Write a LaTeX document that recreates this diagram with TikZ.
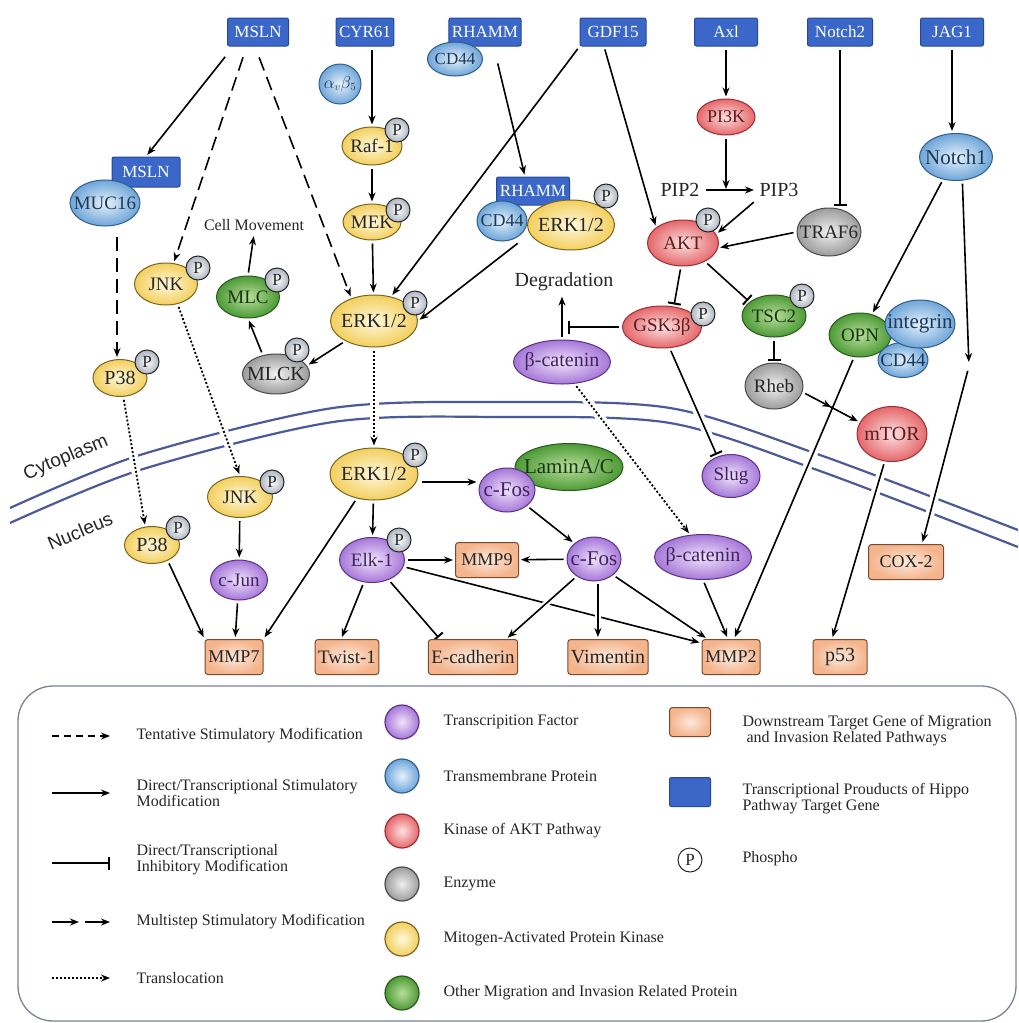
\documentclass[tikz,border=0pt]{standalone}
\usepackage{fontspec}
\setmainfont{Liberation Serif}
\setsansfont{Liberation Sans}
\usetikzlibrary{shapes, arrows.meta, decorations.markings}
\pgfdeclarelayer{back}
\pgfdeclarelayer{edges}
\pgfsetlayers{back,edges,main}
\newcommand\fsz[1]{\fontsize{#1}{#1}\selectfont}
\definecolor{tfin}{HTML}{F1E4FB}\definecolor{tfout}{HTML}{A677D8}\definecolor{tfedge}{HTML}{5B3288}
\definecolor{tmin}{HTML}{E6F2FC}\definecolor{tmout}{HTML}{6EA5D8}\definecolor{tmedge}{HTML}{2F5F8E}
\definecolor{kinin}{HTML}{FCE2E2}\definecolor{kinout}{HTML}{E5676A}\definecolor{kinedge}{HTML}{9A2F35}
\definecolor{enzin}{HTML}{F0F0F0}\definecolor{enzout}{HTML}{9C9C9C}\definecolor{enzedge}{HTML}{4A4A4A}
\definecolor{mapin}{HTML}{FFF9DC}\definecolor{mapout}{HTML}{F3CF5E}\definecolor{mapedge}{HTML}{7A6420}
\definecolor{othin}{HTML}{B8DE9C}\definecolor{othout}{HTML}{4D9A36}\definecolor{othedge}{HTML}{2A5A1E}
\definecolor{tgin}{HTML}{FDE9DC}\definecolor{tgout}{HTML}{F4B48C}\definecolor{tgedge}{HTML}{7A4A2E}
\definecolor{hippo}{HTML}{3A67C8}\definecolor{hippoedge}{HTML}{27479A}
\definecolor{phout}{HTML}{AEB5C0}\definecolor{membcol}{HTML}{4B5A99}
\definecolor{frame}{HTML}{7C8295}\definecolor{ink}{HTML}{262626}

\begin{document}
\begin{tikzpicture}[x=1pt, y=-1pt,
    prot/.style={ellipse, draw, line width=1pt, inner xsep=-12pt, inner ysep=-6pt, font=\fsz{19}},
    tf/.style={prot, draw=tfedge, inner color=tfin, outer color=tfout, text=tfedge!70!black},
    memb/.style={prot, draw=tmedge, inner color=tmin, outer color=tmout, text=tmedge!60!black},
    kinase/.style={prot, draw=kinedge, inner color=kinin, outer color=kinout, text=kinedge!60!black},
    enzyme/.style={prot, draw=enzedge, inner color=enzin, outer color=enzout, text=ink},
    mapk/.style={prot, draw=mapedge, inner color=mapin, outer color=mapout, text=ink},
    other/.style={prot, draw=othedge, inner color=othin, outer color=othout, text=othedge!60!black},
    hippobox/.style={rectangle, rounded corners=2pt, draw=hippoedge, line width=1pt, fill=hippo, text=white, minimum height=28pt, inner xsep=3pt, font=\fsz{17}},
    target/.style={rectangle, rounded corners=3pt, draw=tgedge, line width=1pt, inner color=tgin, outer color=tgout, minimum height=35pt, inner xsep=3pt, font=\fsz{19}, text=ink},
    phos/.style={circle, draw=ink, line width=1pt, inner color=white, outer color=phout, minimum size=24pt, inner sep=0pt, font=\fsz{17}, text=ink},
    lbl/.style={font=\fsz{20}, text=ink},
    act/.style={-{Stealth[length=9pt,width=7pt]}, line width=1.6pt, shorten >=2pt, shorten <=3pt},
    inh/.style={-{Bar[width=13pt,line width=2pt]}, line width=1.6pt, shorten >=2pt, shorten <=3pt},
    tent/.style={act, dash pattern=on 14pt off 7pt},
    trans/.style={act, dash pattern=on 2pt off 2pt, line width=1.8pt},
    multi/.style={act, postaction={decorate}, decoration={markings, mark=at position 0.5 with {\arrow{Stealth[length=9pt,width=7pt]}}}},
    cross/.style={preaction={draw=white, line width=9pt, solid, -}},
    membrane/.style={draw=membcol, line width=2.2pt},
    legtxt/.style={anchor=west, align=left, font=\fsz{16}, text=ink},
    legdot/.style={circle, line width=1.2pt, minimum size=34pt, inner sep=0pt}
  ]
  \useasboundingbox (0,0) rectangle (1018,1023);

  % membrane and legend frame
  \begin{pgfonlayer}{back}
    \fill[white] (0,0) rectangle (1018,1023);
    \draw[membrane] plot[smooth] coordinates {(10,508) (140,455) (333,408) (500,402) (670,408) (820,455) (1018,530)};
    \draw[membrane] plot[smooth] coordinates {(10,523) (140,470) (333,422) (500,417) (670,423) (820,471) (1018,547)};
    \draw[draw=frame, line width=1.3pt, rounded corners=35pt] (18,686) rectangle (1016,1021);
  \end{pgfonlayer}
  \node[font=\sffamily\fsz{19}, text=ink, rotate=23] (cyto) at (66,458) {Cytoplasm};
  \node[font=\sffamily\fsz{19}, text=ink, rotate=23] (nucl) at (80,531) {Nucleus};

  % Hippo target gene products
  \node[hippobox, minimum width=61pt] (mslnA) at (258,32) {MSLN};
  \node[hippobox, minimum width=56pt] (cyr61) at (365,32) {CYR61};
  \node[hippobox, minimum width=65pt] (rhammA) at (485,32) {RHAMM};
  \node[memb, minimum width=55pt, minimum height=34pt, font=\fsz{17}] (cd44A) at (455,59) {CD44};
  \node[hippobox, minimum width=66pt] (gdf15) at (613,32) {GDF15};
  \node[hippobox, minimum width=63pt] (axl) at (726,32) {Axl};
  \node[hippobox, minimum width=65pt] (notch2) at (840,32) {Notch2};
  \node[hippobox, minimum width=63pt] (jag1) at (952,32) {JAG1};

  % cytoplasm
  \node[memb, minimum width=42pt, minimum height=40pt, font=\fsz{16}] (avb5) at (340,84) {$\alpha_v\beta_5$};
  \node[hippobox, minimum width=68pt, minimum height=30pt] (mslnB) at (146,172) {MSLN};
  \node[memb, minimum width=70pt, minimum height=46pt] (muc16) at (105,203) {MUC16};
  \node[mapk, minimum width=60pt, minimum height=38pt] (raf) at (372,146) {Raf-1};
  \node[phos] (pRaf) at (397,130) {P};
  \node[mapk, minimum width=58pt, minimum height=36pt] (mek) at (372,222) {MEK};
  \node[phos] (pMek) at (398,210) {P};
  \node[mapk, minimum width=87pt, minimum height=52pt, font=\fsz{20}] (erkA) at (374,321) {ERK1/2};
  \node[phos] (pErkA) at (415,303) {P};
  \node[lbl, font=\fsz{16}] (cellmove) at (254,225) {Cell Movement};
  \node[other, minimum width=63pt, minimum height=42pt] (mlc) at (248,297) {MLC};
  \node[phos] (pMlc) at (277,280) {P};
  \node[enzyme, minimum width=67pt, minimum height=40pt, font=\fsz{20}] (mlck) at (276,374) {MLCK};
  \node[phos] (pMlck) at (297,350) {P};
  \node[mapk, minimum width=63pt, minimum height=42pt] (jnkA) at (166,284) {JNK};
  \node[phos] (pJnkA) at (198,268) {P};
  \node[mapk, minimum width=54pt, minimum height=37pt, font=\fsz{20}] (p38A) at (120,378) {P38};
  \node[phos] (pP38A) at (147,362) {P};
  \node[kinase, minimum width=58pt, minimum height=36pt, font=\fsz{18}] (pi3k) at (726,117) {PI3K};
  \node[lbl] (pip2) at (680,190) {PIP2};
  \node[lbl] (pip3) at (779,190) {PIP3};
  \node[kinase, minimum width=71pt, minimum height=46pt] (akt) at (683,243) {AKT};
  \node[phos] (pAkt) at (708,220) {P};
  \node[enzyme, minimum width=64pt, minimum height=48pt] (traf6) at (829,232) {TRAF6};
  \node[memb, minimum width=73pt, minimum height=47pt, font=\fsz{21}] (notch1) at (956,157) {Notch1};
  \node[hippobox, minimum width=73pt] (rhammB) at (533,191) {RHAMM};
  \node[mapk, minimum width=87pt, minimum height=50pt, font=\fsz{20}] (erkB) at (571,225) {ERK1/2};
  \node[memb, minimum width=50pt, minimum height=40pt, font=\fsz{18}] (cd44B) at (502,221) {CD44};
  \node[phos] (pErkB) at (606,196) {P};
  \node[lbl] (degr) at (564,282) {Degradation};
  \node[kinase, minimum width=79pt, minimum height=42pt] (gsk) at (662,327) {GSK3β};
  \node[phos] (pGsk) at (703,314) {P};
  \node[other, minimum width=64pt, minimum height=42pt] (tsc2) at (774,316) {TSC2};
  \node[phos] (pTsc2) at (802,296) {P};
  \node[tf, minimum width=97pt, minimum height=44pt, font=\fsz{20}] (betaA) at (562,362) {β-catenin};
  \node[enzyme, minimum width=58pt, minimum height=46pt] (rheb) at (774,386) {Rheb};
  \node[other, minimum width=62pt, minimum height=44pt] (opn) at (860,335) {OPN};
  \node[memb, minimum width=50pt, minimum height=35pt] (cd44C) at (903,360) {CD44};
  \node[memb, minimum width=70pt, minimum height=48pt, font=\fsz{21}] (integrin) at (920,324) {integrin};
  \node[kinase, minimum width=70pt, minimum height=55pt, font=\fsz{20}] (mtor) at (892,434) {mTOR};
  \node[tf, minimum width=58pt, minimum height=43pt] (slug) at (731,476) {Slug};

  % nucleus
  \node[mapk, minimum width=88pt, minimum height=52pt, font=\fsz{20}] (erkC) at (374,474) {ERK1/2};
  \node[phos] (pErkC) at (415,455) {P};
  \node[other, minimum width=108pt, minimum height=47pt, font=\fsz{21}] (lamin) at (569,467) {LaminA/C};
  \node[tf, minimum width=56pt, minimum height=44pt, font=\fsz{21}] (cfosA) at (507,490) {c-Fos};
  \node[tf, minimum width=54pt, minimum height=44pt, font=\fsz{21}] (cfosB) at (594,559) {c-Fos};
  \node[tf, minimum width=65pt, minimum height=45pt] (elk) at (372,560) {Elk-1};
  \node[phos] (pElk) at (399,540) {P};
  \node[target, minimum width=63pt, font=\fsz{18}] (mmp9) at (487,560) {MMP9};
  \node[mapk, minimum width=65pt, minimum height=41pt] (jnkB) at (240,497) {JNK};
  \node[phos] (pJnkB) at (272,482) {P};
  \node[tf, minimum width=57pt, minimum height=40pt] (cjun) at (239,580) {c-Jun};
  \node[mapk, minimum width=55pt, minimum height=37pt, font=\fsz{20}] (p38B) at (152,545) {P38};
  \node[phos] (pP38B) at (178,528) {P};
  \node[tf, minimum width=97pt, minimum height=45pt, font=\fsz{20}] (betaB) at (703,557) {β-catenin};
  \node[target, minimum width=75pt, font=\fsz{18}] (cox2) at (906,562) {COX-2};
  \node[target, minimum width=58pt, font=\fsz{18}] (mmp7) at (234,657) {MMP7};
  \node[target, minimum width=62pt] (twist) at (347,657) {Twist-1};
  \node[target, minimum width=85pt] (ecad) at (473,657) {E-cadherin};
  \node[target, minimum width=78pt, font=\fsz{20}] (vim) at (608,657) {Vimentin};
  \node[target, minimum width=58pt, font=\fsz{18}] (mmp2) at (731,657) {MMP2};
  \node[target, minimum width=54pt, font=\fsz{20}] (p53) at (840,657) {p53};
  \coordinate (nbend) at (969,366);

  \begin{pgfonlayer}{edges}
    \draw[act] ([yshift=-8pt]mslnA.south west) -- (mslnB.north);
    \draw[tent] ([xshift=-14pt,yshift=-8pt]mslnA.south) -- (jnkA.70);
    \draw[tent] ([yshift=-8pt]mslnA.south) -- (erkA.135);
    \draw[tent, shorten <=10pt] ([xshift=12pt]muc16.south) -- ([xshift=-3pt]p38A.north);
    \draw[act] (raf.north |- cyr61.south) -- (raf.north);
    \draw[act] (raf) -- (mek);
    \draw[act] (mek) -- (erkA);
    \draw[act] (gdf15.south west) -- (erkA.55);
    \draw[act] ([xshift=-9pt]gdf15.south) -- (akt.150);
    \draw[act] ([xshift=12pt,yshift=-14pt]rhammA.south) -- ([xshift=-8pt]rhammB.north);
    \draw[act] ([yshift=-6pt]cd44B.south east) -- (erkA.east);
    \draw[act] (erkA.215) -- (mlck.15);
    \draw[act] (mlck.125) -- (mlc.south);
    \draw[act] (mlc.north) -- (cellmove.south);
    \draw[trans, cross] (jnkA.-60) -- (jnkB.north);
    \draw[trans, cross] (p38A.-80) -- (p38B.110);
    \draw[trans, cross] (erkA) -- (erkC);
    \draw[trans, cross] (betaA.-60) -- (betaB.120);
    \draw[inh, cross] (gsk.-70) -- (slug.125);
    \draw[act, cross] (opn.-105) -- ([xshift=3pt]mmp2.north);
    \draw[act, cross] (mtor.-105) -- ([xshift=-8pt]p53.north);
    \draw[act, shorten >=4pt] (notch1.-75) -- (nbend);
    \draw[act, cross, shorten <=5pt] (nbend) -- ([xshift=16pt]cox2.north);
    \draw[act] (notch1.-120) -- (opn.60);
    \draw[act] (jag1.south) -- (jag1.south |- notch1.north);
    \draw[act] (axl) -- (pi3k);
    \draw[act] (pip2) -- (pip3);
    \draw[act, shorten >=1pt] (pi3k) -- (pi3k |- pip2.center);
    \draw[act] (pip3.south west) -- (akt.15);
    \draw[act] (traf6.west) -- (akt.-8);
    \draw[inh] (notch2.south) -- (notch2.south |- traf6.north);
    \draw[inh] (akt.-95) -- (gsk.60);
    \draw[inh] (akt.-40) -- (tsc2.150);
    \draw[inh] (tsc2) -- (rheb);
    \draw[multi] (rheb.-12) -- (mtor.160);
    \draw[act] (betaA.north) -- (betaA.north |- degr.south);
    \draw[inh, shorten >=6pt] (gsk.west) -- (gsk.west -| betaA.north);
    \draw[act] ([yshift=-8pt]erkC.east) -- ([yshift=-8pt]erkC.east -| cfosA.west);
    \draw[act] (cfosA) -- (cfosB);
    \draw[act] (erkC) -- (elk);
    \draw[act] (erkC.235) -- (mmp7.north east);
    \draw[act] (elk) -- (mmp9);
    \draw[act] (cfosB) -- (mmp9);
    \draw[act] (elk.250) -- ([xshift=-6pt]twist.north);
    \draw[inh] (elk.-50) -- ([xshift=12pt]ecad.north west);
    \draw[act] (elk.-12) -- ([yshift=-4pt]mmp2.north west);
    \draw[act, preaction={draw=white, line width=6pt, -}] (cfosB.225) -- ([xshift=-12pt]ecad.north east);
    \draw[act, preaction={draw=white, line width=6pt, -}] (cfosB.-80) -- (cfosB.-80 |- vim.north);
    \draw[act] (cfosB.-40) -- ([xshift=6pt]mmp2.north west);
    \draw[act] (betaB.south) -- ([xshift=-3pt]mmp2.north);
    \draw[act] (jnkB) -- (cjun);
    \draw[act] (cjun) -- (mmp7);
    \draw[act] (p38B.-45) -- (mmp7.north west);
  \end{pgfonlayer}

  % legend
  \node[legtxt] (leg1) at (133,736) {Tentative Stimulatory Modification};
  \node[legtxt] (leg2) at (133,793) {Direct/Transcriptional Stimulatory\\Modification};
  \node[legtxt] (leg3) at (133,860) {Direct/Transcriptional\\Inhibitory Modification};
  \node[legtxt] (leg4) at (133,922) {Multistep Stimulatory Modification};
  \node[legtxt] (leg5) at (133,978) {Translocation};
  \draw[tent, line width=1.4pt, dash pattern=on 7pt off 5pt, shorten <=0pt] ([xshift=-81pt]leg1.west) -- ([xshift=-21pt]leg1.west);
  \draw[act, line width=1.4pt, shorten <=0pt] ([xshift=-81pt]leg2.west) -- ([xshift=-21pt]leg2.west);
  \draw[inh, line width=1.4pt, shorten <=0pt] ([xshift=-81pt,yshift=-3pt]leg3.west) -- ([xshift=-21pt,yshift=-3pt]leg3.west);
  \draw[act, line width=1.4pt, shorten <=0pt, shorten >=0pt] ([xshift=-81pt]leg4.west) -- ([xshift=-54pt]leg4.west);
  \draw[act, line width=1.4pt, shorten <=0pt] ([xshift=-48pt]leg4.west) -- ([xshift=-21pt]leg4.west);
  \draw[trans, line width=1.4pt, shorten <=0pt] ([xshift=-81pt]leg5.west) -- ([xshift=-21pt]leg5.west);

  \node[legdot, draw=tfedge, inner color=tfin, outer color=tfout] (lgTF) at (402,722) {};
  \node[legdot, draw=tmedge, inner color=tmin, outer color=tmout] (lgTM) at (402,776) {};
  \node[legdot, draw=kinedge, inner color=kinin, outer color=kinout] (lgKin) at (402,831) {};
  \node[legdot, draw=enzedge, inner color=enzin, outer color=enzout] (lgEnz) at (402,884) {};
  \node[legdot, draw=mapedge, inner color=mapin, outer color=mapout] (lgMap) at (402,939) {};
  \node[legdot, draw=othedge, inner color=othin, outer color=othout] (lgOth) at (402,993) {};
  \node[legtxt] (leg6) at (440,722) {Transcripition Factor};
  \node[legtxt] (leg7) at (440,776) {Transmembrane Protein};
  \node[legtxt] (leg8) at (440,831) {Kinase of AKT Pathway};
  \node[legtxt] (leg9) at (440,884) {Enzyme};
  \node[legtxt] (leg10) at (440,939) {Mitogen-Activated Protein Kinase};
  \node[legtxt] (leg11) at (440,993) {Other Migration and Invasion Related Protein};

  \node[target, minimum width=41pt, minimum height=29pt] (lgTarget) at (690,722) {};
  \node[hippobox, minimum width=41pt, minimum height=29pt] (lgHippo) at (690,792) {};
  \node[phos, inner color=white, outer color=white] (lgP) at (690,860) {P};
  \node[legtxt] (leg12) at (739,731) {Downstream Target Gene of Migration\\\ and Invasion Related Pathways};
  \node[legtxt] (leg13) at (739,799) {Transcriptional Prouducts of Hippo\\Pathway Target Gene};
  \node[legtxt] (leg14) at (739,859) {Phospho};
\end{tikzpicture}
\end{document}
